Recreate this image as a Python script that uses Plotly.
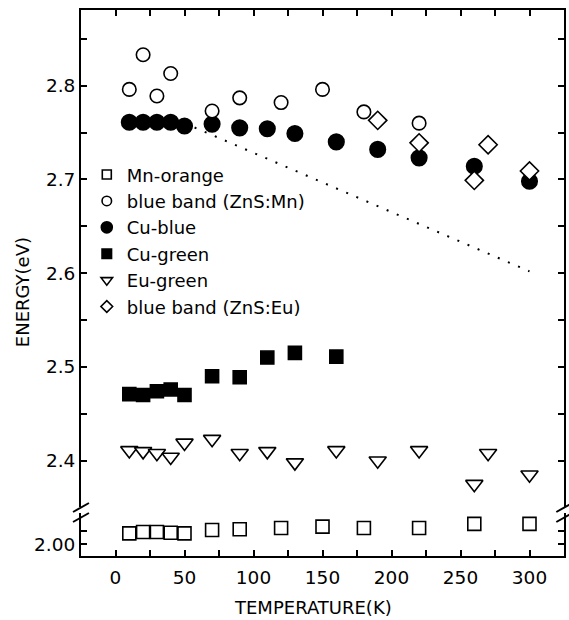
import plotly.graph_objects as go

# ---- data ----
mn_orange_T = [10, 20, 30, 40, 50, 70, 90, 120, 150, 180, 220, 260, 300]
mn_orange_E = [2.008, 2.009, 2.009, 2.0085, 2.008, 2.0105, 2.011, 2.012, 2.013, 2.012, 2.012, 2.015, 2.015]

bb_mn_T = [10, 20, 30, 40, 70, 90, 120, 150, 180, 220]
bb_mn_E = [2.796, 2.833, 2.789, 2.813, 2.773, 2.787, 2.782, 2.796, 2.772, 2.760]

cu_blue_T = [10, 20, 30, 40, 50, 70, 90, 110, 130, 160, 190, 220, 260, 300]
cu_blue_E = [2.761, 2.761, 2.761, 2.761, 2.757, 2.759, 2.755, 2.754, 2.749, 2.740, 2.732, 2.723, 2.714, 2.698]

cu_green_T = [10, 20, 30, 40, 50, 70, 90, 110, 130, 160]
cu_green_E = [2.471, 2.470, 2.474, 2.476, 2.470, 2.490, 2.489, 2.510, 2.515, 2.511]

eu_green_T = [10, 20, 30, 40, 50, 70, 90, 110, 130, 160, 190, 220, 260, 270, 300]
eu_green_E = [2.411, 2.410, 2.408, 2.404, 2.419, 2.423, 2.408, 2.410, 2.398, 2.411, 2.400, 2.411, 2.375, 2.408, 2.385]

bb_eu_T = [190, 220, 260, 270, 300]
bb_eu_E = [2.763, 2.739, 2.699, 2.737, 2.709]

fit_T = [50, 300]
fit_E = [2.760, 2.602]

x_ticks = [0, 50, 100, 150, 200, 250, 300]
y_upper_ticks = [2.4, 2.5, 2.6, 2.7, 2.8]
y_lower_ticks = [2.00]

FONT = "DejaVu Sans, Liberation Sans, Arial, sans-serif"
BLACK = "black"

fig = go.Figure()

# plotted series (legend drawn by separate small-symbol entries)
def add(name, T, E, symbol, size, fill, xa, ya):
    fig.add_trace(go.Scatter(
        x=T, y=E, name=name, mode="markers", xaxis=xa, yaxis=ya, showlegend=False,
        legendgroup=name,
        marker=dict(symbol=symbol, size=size, color=fill,
                    line=dict(color=BLACK, width=1.6)),
    ))

add("Mn-orange", mn_orange_T, mn_orange_E, "square", 13, "white", "x", "y")
add("Cu-green", cu_green_T, cu_green_E, "square", 13, BLACK, "x2", "y2")
add("Eu-green", eu_green_T, eu_green_E, "triangle-down", 15, "white", "x2", "y2")
add("Cu-blue", cu_blue_T, cu_blue_E, "circle", 15.5, BLACK, "x2", "y2")
add("blue band (ZnS:Mn)", bb_mn_T, bb_mn_E, "circle", 13.5, "white", "x2", "y2")
add("blue band (ZnS:Eu)", bb_eu_T, bb_eu_E, "diamond", 14, "white", "x2", "y2")

fig.add_trace(go.Scatter(
    x=fit_T, y=fit_E, mode="lines", xaxis="x2", yaxis="y2", showlegend=False,
    line=dict(color=BLACK, width=2, dash="2px,9px"),
))

# legend entries
legend_items = [
    ("Mn-orange", "square", 9, "white"),
    ("blue band (ZnS:Mn)", "circle", 9.5, "white"),
    ("Cu-blue", "circle", 11, BLACK),
    ("Cu-green", "square", 9.5, BLACK),
    ("Eu-green", "triangle-down", 10, "white"),
    ("blue band (ZnS:Eu)", "diamond", 9, "white"),
]
for i, (name, sym, sz, fill) in enumerate(legend_items):
    fig.add_trace(go.Scatter(
        x=[None], y=[None], name=name, mode="markers", xaxis="x2", yaxis="y2",
        legendgroup=name, legendrank=i + 1,
        marker=dict(symbol=sym, size=sz, color=fill, line=dict(color=BLACK, width=1.6)),
    ))

tick_style = dict(ticks="inside", ticklen=6, tickcolor=BLACK, tickwidth=1.5)
axis_common = dict(
    showline=True, linecolor=BLACK, linewidth=2, showgrid=False, zeroline=False,
    tickfont=dict(family=FONT, size=18.5, color=BLACK), **tick_style,
)

xr = [-25, 325]
fig.update_layout(
    width=569, height=620,
    margin=dict(l=81, r=3, t=10, b=64),
    paper_bgcolor="white", plot_bgcolor="white",
    font=dict(family=FONT, size=18, color=BLACK),
    xaxis=dict(range=xr, tickvals=x_ticks, anchor="y", domain=[0, 1], ticklabelstandoff=4,
               minor=dict(dtick=25, **tick_style), **axis_common),
    xaxis2=dict(range=xr, anchor="y2", side="top", domain=[0, 1],
                tickvals=x_ticks, showticklabels=False,
                minor=dict(dtick=25, **tick_style), **axis_common),
    yaxis=dict(domain=[0, 0.0788], range=[1.9914, 2.0230], anchor="x",
               tickvals=y_lower_ticks, tickformat=".2f", mirror="ticks",
               minor=dict(tickvals=[2.01], **tick_style), **axis_common),
    yaxis2=dict(domain=[0.0897, 1], range=[2.3506, 2.8807], anchor="x2",
                tickvals=y_upper_ticks, tickformat=".1f", mirror="ticks",
                minor=dict(dtick=0.05, **tick_style), **axis_common),
    legend=dict(x=0.012, y=0.732, xanchor="left", yanchor="top",
                bgcolor="rgba(0,0,0,0)", font=dict(family=FONT, size=18, color=BLACK),
                tracegroupgap=0),
    showlegend=True,
)

# axis titles
fig.add_annotation(text="TEMPERATURE(K)", xref="paper", yref="paper",
                   x=(314 - 81) / 484.7, y=(556 - 607) / 546, showarrow=False,
                   font=dict(family=FONT, size=18, color=BLACK), xanchor="center", yanchor="middle")
fig.add_annotation(text="ENERGY(eV)", xref="paper", yref="paper",
                   x=(23 - 81) / 484.7, y=(556 - 292) / 546, showarrow=False, textangle=-90,
                   font=dict(family=FONT, size=18, color=BLACK), xanchor="center", yanchor="middle")

# axis break marks
def px2paper(xp, yp):
    return (xp - 81) / 484.7, (556 - yp) / 546

for (x0, y0, x1, y1) in [(73, 512, 89, 503), (73, 522, 89, 513),
                         (558, 512, 574, 503), (558, 522, 574, 513)]:
    a = px2paper(x0, y0)
    b = px2paper(x1, y1)
    fig.add_shape(type="line", xref="paper", yref="paper",
                  x0=a[0], y0=a[1], x1=b[0], y1=b[1],
                  line=dict(color=BLACK, width=2))

fig.write_html("out.html", config={"displayModeBar": False},
               post_script="document.body.style.margin='0px';")
